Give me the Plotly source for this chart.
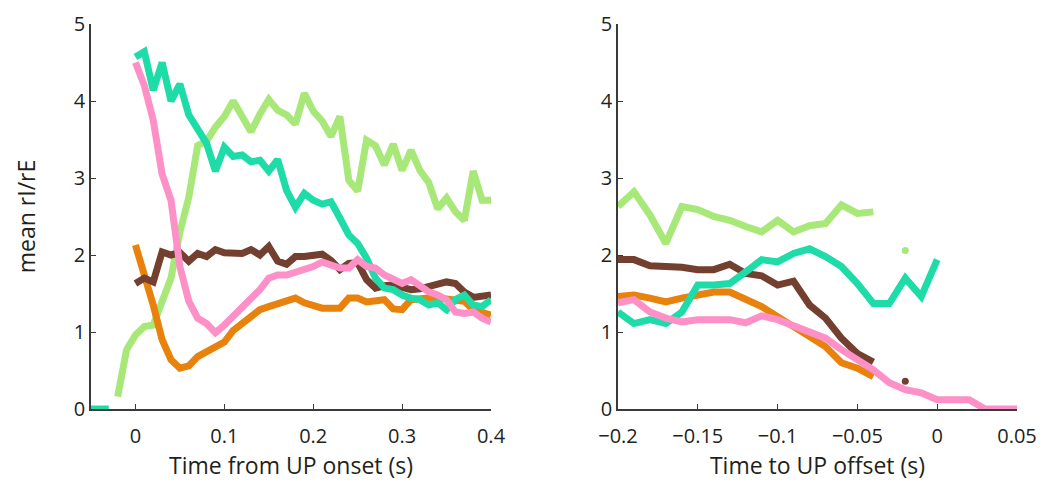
import plotly.graph_objects as go

# ---------------- data ----------------
t_onset = [-0.05, -0.04, -0.03, -0.02, -0.01, 0.00, 0.01, 0.02, 0.03, 0.04, 0.05, 0.06, 0.07, 0.08, 0.09,
           0.10, 0.11, 0.12, 0.13, 0.14, 0.15, 0.16, 0.17, 0.18, 0.19, 0.20, 0.21, 0.22, 0.23, 0.24,
           0.25, 0.26, 0.27, 0.28, 0.29, 0.30, 0.31, 0.32, 0.33, 0.34, 0.35, 0.36, 0.37, 0.38, 0.39, 0.40]

green_on = [None, None, None, 0.16, 0.77,
            0.96, 1.07, 1.09, 1.40, 1.70, 2.30, 2.75, 3.42, 3.48, 3.66, 3.80, 4.00, 3.82, 3.60, 3.83,
            4.02, 3.88, 3.82, 3.70, 4.10, 3.87, 3.74, 3.54, 3.80, 2.97, 2.83, 3.49, 3.42, 3.17, 3.44,
            3.10, 3.36, 3.10, 2.94, 2.60, 2.74, 2.56, 2.45, 3.09, 2.71, 2.71]
orange_on = [None, None, None, None, None,
             2.13, 1.75, 1.35, 0.90, 0.64, 0.53, 0.56, 0.68, 0.74, 0.81, 0.87, 1.02, 1.12, 1.22, 1.29,
             1.33, 1.37, 1.40, 1.44, 1.38, 1.35, 1.31, 1.31, 1.31, 1.44, 1.44, 1.39, 1.40, 1.42, 1.30,
             1.29, 1.42, 1.44, 1.44, 1.44, 1.42, 1.42, 1.40, 1.29, 1.25, 1.22]
brown_on = [None, None, None, None, None,
            1.63, 1.70, 1.65, 2.04, 2.00, 2.03, 1.92, 2.02, 1.98, 2.07, 2.03, 2.02, 2.02, 2.07, 2.00,
            2.11, 1.92, 1.88, 1.98, 1.98, 2.00, 2.01, 1.93, 1.81, 1.89, 1.90, 1.68, 1.57, 1.60, 1.61,
            1.58, 1.55, 1.56, 1.59, 1.62, 1.65, 1.63, 1.52, 1.45, 1.46, 1.48]
teal_on = [0.0, 0.0, 0.0, None, None,
           4.57, 4.64, 4.14, 4.50, 4.00, 4.22, 3.82, 3.65, 3.45, 3.09, 3.40, 3.28, 3.30, 3.21, 3.23,
           3.09, 3.24, 2.84, 2.62, 2.80, 2.71, 2.66, 2.69, 2.48, 2.26, 2.15, 1.96, 1.70, 1.57, 1.55,
           1.48, 1.44, 1.42, 1.35, 1.38, 1.29, 1.42, 1.48, 1.35, 1.33, 1.42]
pink_on = [None, None, None, None, None,
           4.50, 4.20, 3.75, 3.05, 2.71, 1.85, 1.40, 1.18, 1.11, 0.99, 1.09, 1.20, 1.31, 1.42, 1.55,
           1.70, 1.74, 1.74, 1.78, 1.80, 1.85, 1.91, 1.88, 1.83, 1.83, 1.94, 1.85, 1.83, 1.74, 1.68,
           1.63, 1.68, 1.59, 1.52, 1.48, 1.42, 1.26, 1.24, 1.26, 1.18, 1.13]

t_offset = [-0.20, -0.19, -0.18, -0.17, -0.16, -0.15, -0.14, -0.13, -0.12, -0.11, -0.10, -0.09, -0.08,
            -0.07, -0.06, -0.05, -0.04, -0.03, -0.02, -0.01, 0.00, 0.01, 0.02, 0.03, 0.04, 0.05]

green_off = [2.63, 2.82, 2.52, 2.15, 2.63, 2.59, 2.50, 2.45, 2.37, 2.30, 2.45, 2.30, 2.38, 2.41, 2.65,
             2.54, 2.56, None, 2.06, None, None, None, None, None, None, None]
orange_off = [1.46, 1.48, 1.44, 1.39, 1.44, 1.49, 1.52, 1.52, 1.42, 1.33, 1.20, 1.07, 0.93, 0.81, 0.60,
              0.53, 0.42, None, None, None, None, None, None, None, None, None]
brown_off = [1.94, 1.94, 1.86, 1.86, 1.84, 1.81, 1.81, 1.88, 1.76, 1.73, 1.61, 1.66, 1.35, 1.18, 0.92,
             0.72, 0.61, None, 0.36, None, None, None, None, None, None, None]
teal_off = [1.26, 1.11, 1.16, 1.11, 1.26, 1.61, 1.61, 1.63, 1.78, 1.94, 1.91, 2.02, 2.08, 1.98, 1.85,
            1.63, 1.37, 1.37, 1.70, 1.46, 1.94, None, None, None, None, None]
pink_off = [1.38, 1.42, 1.26, 1.18, 1.13, 1.16, 1.16, 1.16, 1.12, 1.21, 1.16, 1.08, 1.01, 0.92, 0.77,
            0.64, 0.51, 0.34, 0.25, 0.21, 0.12, 0.12, 0.12, 0.0, 0.0, 0.0]

x_ticks_on = [0, 0.1, 0.2, 0.3, 0.4]
x_ticks_off = [-0.2, -0.15, -0.1, -0.05, 0, 0.05]
y_ticks = [0, 1, 2, 3, 4, 5]

colors = {"green": "#a8e878", "orange": "#e8820c", "brown": "#733f2e", "teal": "#1edca8", "pink": "#fd90c6"}

# ---------------- figure ----------------
fig = go.Figure()
LW = 7

def add_series(x, y, color, xa, ya):
    fig.add_trace(go.Scatter(x=x, y=y, mode="lines", line=dict(color=color, width=LW),
                             connectgaps=False, xaxis=xa, yaxis=ya, showlegend=False,
                             hoverinfo="skip"))
    # isolated points (no neighbours) drawn as dots
    ix, iy = [], []
    for i, v in enumerate(y):
        if v is None:
            continue
        prev_none = i == 0 or y[i - 1] is None
        next_none = i == len(y) - 1 or y[i + 1] is None
        if prev_none and next_none:
            ix.append(x[i]); iy.append(v)
    if ix:
        fig.add_trace(go.Scatter(x=ix, y=iy, mode="markers", marker=dict(color=color, size=7),
                                 xaxis=xa, yaxis=ya, showlegend=False, hoverinfo="skip"))

for name, ys in [("green", green_on), ("orange", orange_on), ("brown", brown_on),
                 ("teal", teal_on), ("pink", pink_on)]:
    add_series(t_onset, ys, colors[name], "x", "y")
for name, ys in [("green", green_off), ("orange", orange_off), ("brown", brown_off),
                 ("teal", teal_off), ("pink", pink_off)]:
    add_series(t_offset, ys, colors[name], "x2", "y2")

FONT = "Open Sans, Noto Sans, sans-serif"
TXT = "#231f20"
AX = "#3a3a3a"
TICK_SIZE = 20
TITLE_SIZE = 23

common_axis = dict(showline=True, linecolor=AX, linewidth=1.5, ticks="inside", ticklen=5,
                   tickwidth=1.2, tickcolor=AX, showgrid=False, zeroline=False, automargin=False,
                   tickfont=dict(family=FONT, size=TICK_SIZE, color=TXT), mirror=False)

fig.update_layout(
    width=1044, height=486,
    margin=dict(l=0, r=0, t=0, b=0),
    paper_bgcolor="white", plot_bgcolor="white",
    font=dict(family=FONT, color=TXT),
    xaxis=dict(domain=[91 / 1044, 491 / 1044], range=[-0.05, 0.4], tickvals=x_ticks_on,
               ticktext=[f"{v:g}" for v in x_ticks_on], anchor="y", ticklabelstandoff=8,
               title=dict(text="Time from UP onset (s)", font=dict(family=FONT, size=TITLE_SIZE, color=TXT),
                          standoff=4),
               **common_axis),
    yaxis=dict(domain=[77 / 486, 462 / 486], range=[0, 5], tickvals=y_ticks, anchor="x",
               title=dict(text="mean rI/rE", font=dict(family=FONT, size=TITLE_SIZE, color=TXT), standoff=32),
               **common_axis),
    xaxis2=dict(domain=[618 / 1044, 1017 / 1044], range=[-0.2, 0.05], tickvals=x_ticks_off,
                ticktext=[f"{v:g}".replace("-", "\u2212") for v in x_ticks_off], anchor="y2",
                ticklabelstandoff=8,
                title=dict(text="Time to UP offset (s)", font=dict(family=FONT, size=TITLE_SIZE, color=TXT),
                           standoff=4),
                **common_axis),
    yaxis2=dict(domain=[77 / 486, 462 / 486], range=[0, 5], tickvals=y_ticks, anchor="x2",
                **common_axis),
)

fig.write_html("out.html")
